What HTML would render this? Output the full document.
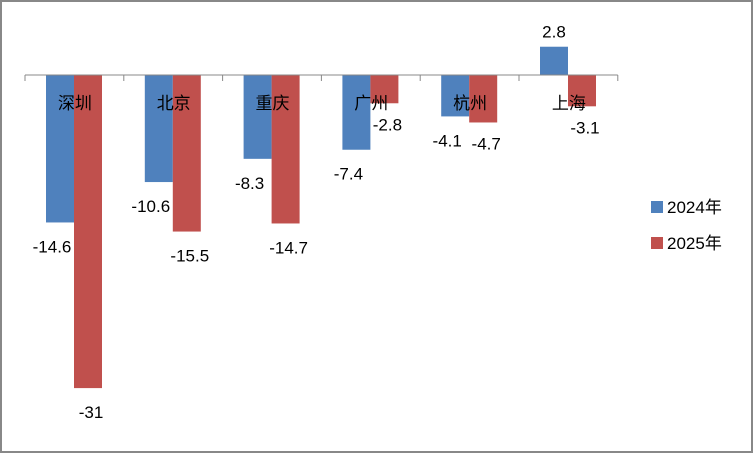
<!DOCTYPE html>
<html><head><meta charset="utf-8"><style>
body{margin:0;background:#fff}
svg text{font-family:"Liberation Sans","Noto Sans CJK SC",sans-serif;font-size:17px;fill:#000}
</style></head><body>
<svg width="754" height="454">
<rect x="1" y="1" width="751" height="451" fill="#fff" stroke="#888" stroke-width="2"/>
<g id="plot"></g>
<g>
<rect x="651" y="201" width="12" height="12" fill="#4f81bd"/>
<text x="667" y="213">2024年</text>
<rect x="651" y="237" width="12" height="12" fill="#c0504d"/>
<text x="667" y="249">2025年</text>
</g>
</svg>
<script>
const categories=["深圳","北京","重庆","广州","杭州","上海"];
const s2024=[-14.6,-10.6,-8.3,-7.4,-4.1,2.8];
const s2025=[-31,-15.5,-14.7,-2.8,-4.7,-3.1];
const NS="http://www.w3.org/2000/svg";
const g=document.getElementById('plot');
const x0=25,gw=98.8,y0=75,k=10.1,bw=28;
const y=v=>y0-v*k;
function mk(t,a){const e=document.createElementNS(NS,t);for(const n in a)e.setAttribute(n,a[n]);g.appendChild(e);return e;}
categories.forEach((c,i)=>{
  const gx=x0+i*gw;
  [[s2024,"#4f81bd",21,"2024"],[s2025,"#c0504d",21+bw,"2025"]].forEach(([s,col,off,nm])=>{
    const v=s[i],bx=gx+off;
    const r=mk('rect',{x:bx,y:Math.min(y(v),y0),width:bw,height:Math.abs(v)*k,fill:col});
    
    
    let lx=bx+bw/2, ly;
    if(v<0){ly=y(v)+30; if(nm==="2024")lx-=8; else lx+=3;}
    else ly=y(v)-9;
    if(nm==="2025"&&v>-5&&v<0){ly=y(v)+27;}
    const t=mk('text',{x:lx,y:ly,'text-anchor':'middle'});
    t.textContent=String(v);
    
    
  });
  const ct=mk('text',{x:gx+gw/2+0.5,y:109,'text-anchor':'middle'});
  ct.textContent=c;
  
  
});
const ax=mk('line',{x1:x0,y1:y0,x2:x0+gw*6,y2:y0,stroke:'#888','stroke-width':1});


for(let i=0;i<=6;i++){
  const tk=mk('line',{x1:x0+i*gw,y1:y0,x2:x0+i*gw,y2:y0+6,stroke:'#888'});
  
  
}
</script>
</body></html>
